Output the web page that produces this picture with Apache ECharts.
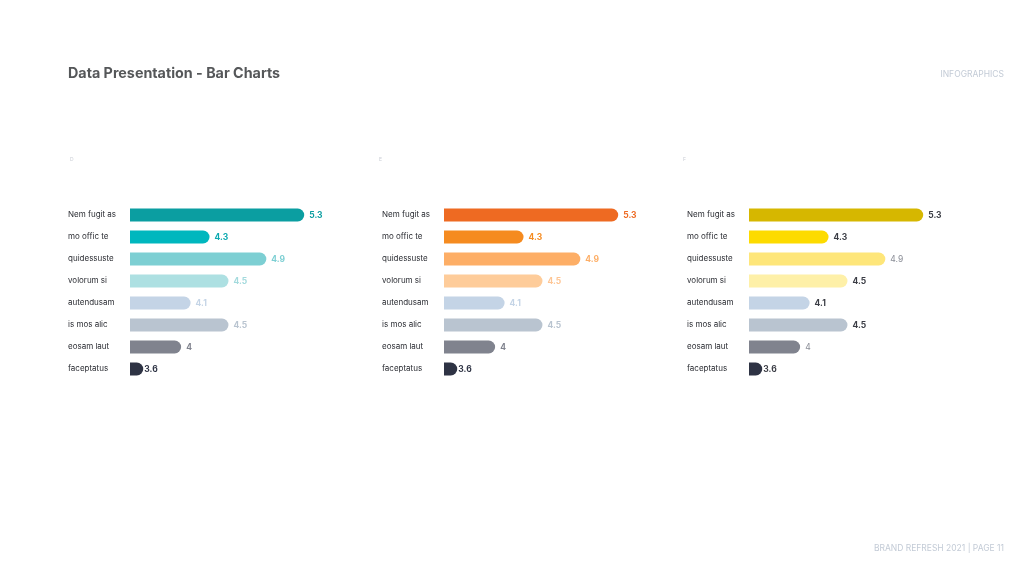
<!DOCTYPE html>
<html><head><meta charset="utf-8">
<script src="https://cdn.jsdelivr.net/npm/echarts@6/dist/echarts.min.js"></script>
<style>html,body{margin:0;padding:0;background:#fff}#c{width:1024px;height:576px}</style>
</head><body><div id="c"></div>
<script>
var categories = ['Nem fugit as','mo offic te','quidessuste','volorum si','autendusam','is mos alic','eosam laut','faceptatus'];
var panelNames = ['D','E','F'];
var valuesD = [5.3,4.3,4.9,4.5,4.1,4.5,4,3.6];
var valuesE = [5.3,4.3,4.9,4.5,4.1,4.5,4,3.6];
var valuesF = [5.3,4.3,4.9,4.5,4.1,4.5,4,3.6];
var colorsD = ['#0b9ea1','#00b7be','#7dcfd3','#ade0e2','#c4d4e6','#b9c4d0','#80838e','#2e3344'];
var colorsE = ['#ee6a22','#f58b20','#fdae66','#fecc9a','#c4d4e6','#b9c4d0','#80838e','#2e3344'];
var colorsF = ['#d6b700','#fddb00','#fee67a','#fef0a8','#c4d4e6','#b9c4d0','#80838e','#2e3344'];
var labelColorsD = ['#0b9ea1','#0aa9b0','#7dcfd3','#a3dadd','#c4d4e6','#b9c4d0','#80838e','#2e3344'];
var labelColorsE = ['#ee6a22','#f58b20','#fdae66','#fec594','#c4d4e6','#b9c4d0','#80838e','#2e3344'];
var labelColorsF = ['#3a3c44','#3a3c44','#8a8d96','#3a3c44','#3a3c44','#3a3c44','#8a8d96','#3a3c44'];
var labelWeightsF = ['bold','bold','normal','bold','bold','bold','normal','bold'];

var FONT = 'Inter, "Noto Sans", sans-serif';
var lefts = [130, 444, 749];
var letterLefts = [65, 374, 678];
var allValues = [valuesD, valuesE, valuesF];
var allColors = [colorsD, colorsE, colorsF];
var allLabelColors = [labelColorsD, labelColorsE, labelColorsF];

var chart = echarts.init(document.getElementById('c'), null, {renderer:'canvas'});
var grids = [], xAxes = [], yAxes = [], series = [];
for (var p = 0; p < 3; p++) {
  grids.push({left: lefts[p], top: 204, width: 240.5, height: 176, containLabel: false});
  xAxes.push({type:'value', gridIndex:p, min:3.46, max:6, show:false});
  yAxes.push({type:'category', gridIndex:p, data:categories, inverse:true,
    axisLine:{show:false}, axisTick:{show:false}, splitLine:{show:false},
    axisLabel:{align:'left', margin:62, fontSize:8, color:'#2b2d33', fontFamily:FONT}});
  var data = allValues[p].map(function(v, i){
    return {value:v,
      itemStyle:{color: allColors[p][i]},
      label:{color: allLabelColors[p][i], fontWeight: p===2 ? labelWeightsF[i] : 'bold',
             distance: (i === allValues[p].length - 1) ? 1 : 5}};
  });
  series.push({type:'bar', xAxisIndex:p, yAxisIndex:p, data:data, barWidth:13,
    itemStyle:{borderRadius:[0,6.5,6.5,0]},
    label:{show:true, position:'right', distance:5, fontSize:8.5, fontFamily:FONT},
    animation:false});
}
var letterTitles = panelNames.map(function(n, i){
  return {text:n, left:letterLefts[i], top:152, textStyle:{fontSize:5, fontWeight:'normal', color:'#c8ccd4', fontFamily:FONT}};
});
chart.setOption({
  animation:false,
  grid:grids, xAxis:xAxes, yAxis:yAxes, series:series,
  title:[
    {text:'Data Presentation - Bar Charts', left:63, top:62, textStyle:{fontSize:14.3, fontWeight:'bold', color:'#555759', fontFamily:FONT}},
    {text:'INFOGRAPHICS', right:15, top:65, textStyle:{fontSize:8.5, fontWeight:'normal', color:'#c3cbd6', fontFamily:FONT}},
    {text:'BRAND REFRESH 2021 | PAGE 11', right:15, top:539, textStyle:{fontSize:8.5, fontWeight:'normal', color:'#c3cbd6', fontFamily:FONT}}
  ].concat(letterTitles)
});
</script></body></html>
